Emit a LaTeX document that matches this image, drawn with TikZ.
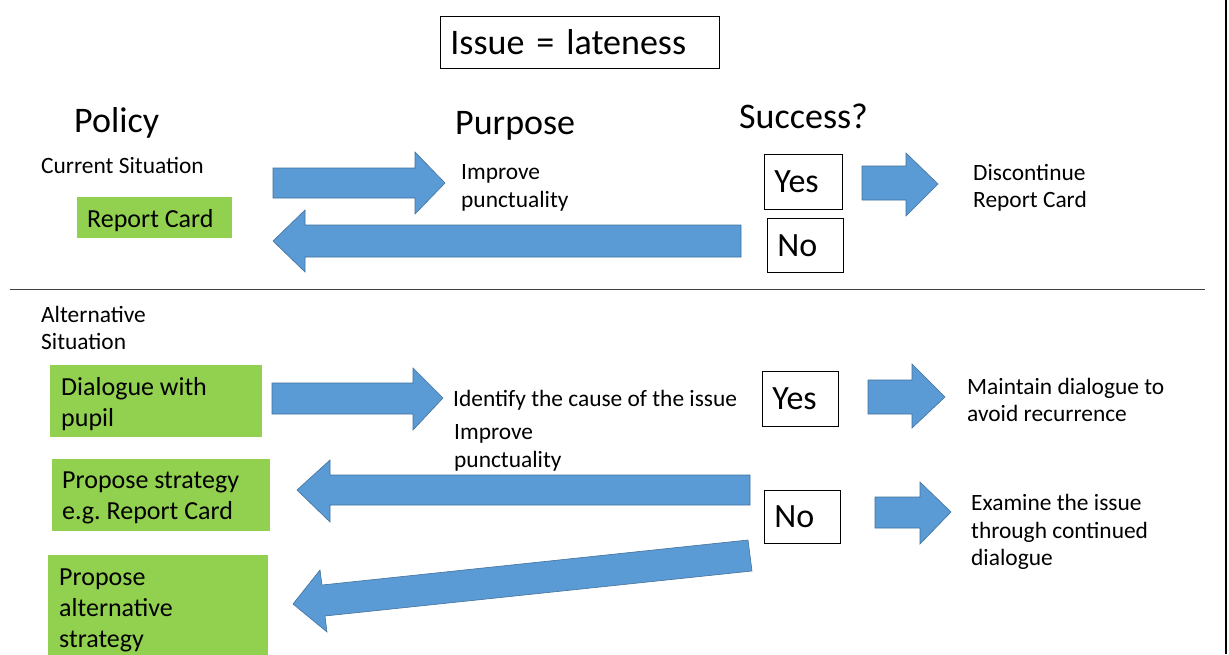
\documentclass[tikz,border=0pt]{standalone}
\usepackage{fontspec}
\setmainfont{Carlito}
\frenchspacing
\definecolor{arrowblue}{HTML}{5B9BD5}
\definecolor{arrowedge}{HTML}{41719C}
\definecolor{boxgreen}{HTML}{92D050}
\begin{document}
\begin{tikzpicture}[x=1pt,y=-1pt,
  smalltxt/.style={font=\fontsize{23.4}{27.5}\selectfont, inner sep=0pt, align=left, anchor=west},
  bigtxt/.style={font=\fontsize{36}{43}\selectfont, inner sep=0pt, anchor=base west},
  greenbox/.style={fill=boxgreen, anchor=north west, inner sep=0pt},
  greentxt/.style={font=\fontsize{26}{31}\selectfont, align=left, anchor=west, inner sep=0pt},
  ynbox/.style={draw=black, line width=0.8pt, font=\fontsize{34}{40}\selectfont, anchor=north west, inner ysep=0pt, inner xsep=10pt, align=left},
  blockarrow/.style={fill=arrowblue, draw=arrowedge, line width=0.6pt, line join=miter}]
\useasboundingbox (0,0) rectangle (1229,654);
\fill[white] (0,0) rectangle (1229,654);

% title
\node[ynbox, font=\fontsize{36}{43}\selectfont, text width=259pt, minimum height=52pt] (issue) at (440,16) {Issue = lateness};

% headings
\node[bigtxt] (policy) at (74,132) {Policy};
\node[bigtxt] (purpose) at (455,134) {Purpose};
\node[bigtxt] (success) at (739,128) {Success?};

% current situation
\node[smalltxt] (cur) at (41,165.5) {Current Situation};
\node[greenbox, minimum width=155pt, minimum height=41pt] (rc) at (77,197) {};
\node[greentxt] (rct) at ([xshift=10pt,yshift=-2.5pt]rc.west) {Report Card};
\node[smalltxt] (imp1) at (461,188) {Improve\\punctuality};
\node[ynbox, text width=58pt, minimum height=55pt] (yes1) at (764,154) {Yes};
\node[ynbox, text width=56pt, minimum height=54pt] (no1) at (767,218) {No};
\node[smalltxt] (disc) at (973,188) {Discontinue\\Report Card};

% arrows current
\draw[blockarrow] (273,168) -- (415,168) -- (415,152) -- (445,183) -- (415,214) -- (415,198) -- (273,198) -- cycle;
\draw[blockarrow] (741,225) -- (305,225) -- (305,210) -- (273,241) -- (305,272) -- (305,257) -- (741,257) -- cycle;
\draw[blockarrow] (862,166) -- (906,166) -- (906,153) -- (938,184) -- (906,216) -- (906,200) -- (862,200) -- cycle;

% separators
\draw[line width=1pt, black!75] (10,289) -- (1205,289);
\draw[line width=1.5pt, black] (1226,0) -- (1226,654);

% alternative situation
\node[smalltxt] (alt) at (41,328) {Alternative\\Situation};
\node[greenbox, minimum width=212pt, minimum height=72pt] (dlg) at (50,365) {};
\node[greentxt] (dlgt) at ([xshift=11pt,yshift=-2.5pt]dlg.west) {Dialogue with\\pupil};
\node[smalltxt] (ident) at (453,400.5) {Identify the cause of the issue};
\node[smalltxt] (imp2) at (454,448) {Improve\\punctuality};
\node[ynbox, text width=56pt, minimum height=55pt] (yes2) at (762,371) {Yes};
\node[smalltxt] (maint) at (967,400) {Maintain dialogue to\\avoid recurrence};
\node[greenbox, minimum width=218pt, minimum height=72pt] (prop1) at (52,459) {};
\node[greentxt] (prop1t) at ([xshift=10pt,yshift=-2.5pt]prop1.west) {Propose strategy\\e.g. Report Card};
\node[ynbox, text width=56pt, minimum height=53pt] (no2) at (764,490) {No};
\node[smalltxt] (exam) at (971,532) {Examine the issue\\through continued\\dialogue};
\node[greenbox, minimum width=220pt, minimum height=106pt] (prop2) at (48,555) {};
\node[greentxt] (prop2t) at ([xshift=11pt,yshift=-2.5pt]prop2.west) {Propose\\alternative\\strategy};

% arrows alternative
\draw[blockarrow] (272,383) -- (413,383) -- (413,368) -- (443,398) -- (413,430) -- (413,414) -- (272,414) -- cycle;
\draw[blockarrow] (868,380) -- (912,380) -- (912,364) -- (945,397) -- (912,428) -- (912,414) -- (868,414) -- cycle;
\draw[blockarrow] (750,475) -- (330,475) -- (330,460) -- (297,490) -- (330,522) -- (330,505) -- (750,505) -- cycle;
\draw[blockarrow] (875,497) -- (920,497) -- (920,482) -- (951,512) -- (920,544) -- (920,528) -- (875,528) -- cycle;
\draw[blockarrow] (748,540) -- (322,585) -- (320,570) -- (293,604) -- (327,632) -- (325,616) -- (752,571) -- cycle;
\end{tikzpicture}
\end{document}
